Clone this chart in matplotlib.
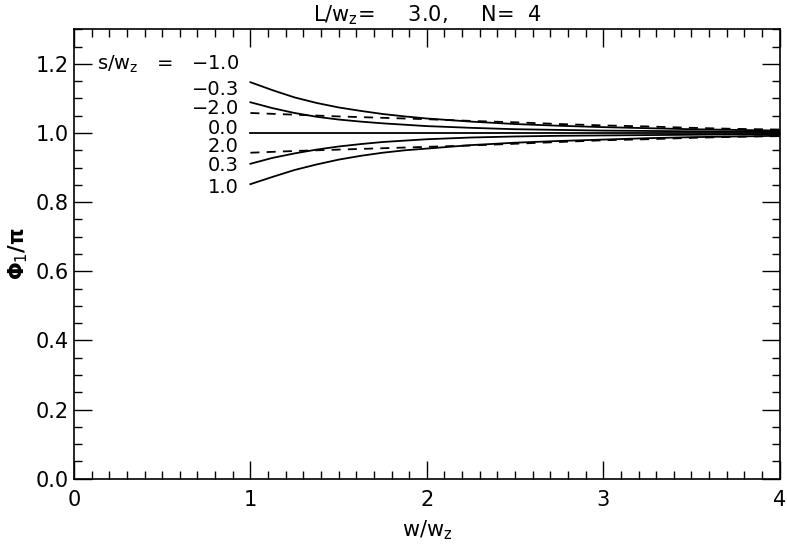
import numpy as np
import matplotlib
matplotlib.use("Agg")
import matplotlib.pyplot as plt
from matplotlib.ticker import MultipleLocator

w = [1.0, 1.125, 1.25, 1.375, 1.5, 1.625, 1.75, 1.875, 2.0,
     2.25, 2.5, 2.75, 3.0, 3.25, 3.5, 3.75, 4.0]

phi_m10 = [1.147, 1.124, 1.103, 1.087, 1.074, 1.064, 1.055, 1.048, 1.042,
           1.033, 1.026, 1.021, 1.017, 1.014, 1.011, 1.009, 1.007]
phi_m03 = [1.089, 1.072, 1.058, 1.047, 1.039, 1.033, 1.028, 1.024, 1.020,
           1.015, 1.011, 1.009, 1.007, 1.006, 1.005, 1.004, 1.003]
phi_m20 = [1.058, 1.0555, 1.053, 1.0505, 1.048, 1.046, 1.044, 1.042, 1.040,
           1.035, 1.031, 1.026, 1.022, 1.019, 1.015, 1.012, 1.010]
phi_00 = [1.0] * 17
phi_p20 = [0.943, 0.9455, 0.948, 0.950, 0.952, 0.954, 0.956, 0.958, 0.960,
           0.964, 0.969, 0.974, 0.979, 0.982, 0.986, 0.989, 0.991]
phi_p03 = [0.911, 0.928, 0.941, 0.952, 0.961, 0.968, 0.974, 0.978, 0.982,
           0.987, 0.990, 0.992, 0.993, 0.994, 0.995, 0.996, 0.997]
phi_p10 = [0.852, 0.873, 0.893, 0.909, 0.923, 0.934, 0.943, 0.950, 0.955,
           0.965, 0.972, 0.977, 0.981, 0.985, 0.988, 0.990, 0.992]

curves = [phi_m10, phi_m03, phi_m20, phi_00, phi_p20, phi_p03, phi_p10]
styles = ['-', '-', '--', '-', '--', '-', '-']
labels = ['s/w$_\\mathrm{z}$   =   \u22121.0', '\u22120.3', '\u22122.0', '0.0', '2.0', '0.3', '1.0']
label_y = [1.200, 1.127, 1.072, 1.014, 0.960, 0.907, 0.843]


def plot():
    fig = plt.figure(figsize=(7.87, 5.46), dpi=100)
    ax = fig.add_axes([0.094, 0.1233, 0.8967, 0.823])

    for ys, ls in zip(curves, styles):
        if ls == '--':
            ax.plot(w, ys, color='black', lw=1.3, ls=(0, (5, 4)))
        else:
            ax.plot(w, ys, color='black', lw=1.3)

    for lab, ly in zip(labels, label_y):
        ax.text(0.935, ly, lab, ha='right', va='center', fontsize=14)

    ax.set_xlim(0, 4)
    ax.set_ylim(0, 1.3)
    ax.xaxis.set_major_locator(MultipleLocator(1))
    ax.xaxis.set_minor_locator(MultipleLocator(0.1))
    ax.yaxis.set_major_locator(MultipleLocator(0.2))
    ax.yaxis.set_minor_locator(MultipleLocator(0.05))
    ax.yaxis.set_major_formatter(plt.FormatStrFormatter('%.1f'))
    ax.tick_params(which='both', direction='in', top=True, right=True,
                   labelsize=15, width=1)
    ax.tick_params(which='major', length=13)
    ax.tick_params(which='minor', length=6)
    ax.tick_params(axis='x', pad=8)
    for sp in ax.spines.values():
        sp.set_linewidth(1.2)

    ax.set_xlabel('w/w$_\\mathrm{z}$', fontsize=15, labelpad=6)
    ax.set_ylabel('\u03a6$_1$/\u03c0', fontsize=15, labelpad=4, fontweight='bold')
    ax.set_title('L/w$_\\mathrm{z}$=     3.0,     N=  4', fontsize=15, pad=6)

    fig.savefig('out.png', dpi=100)


def main():
    plot()


if __name__ == "__main__":
    main()
